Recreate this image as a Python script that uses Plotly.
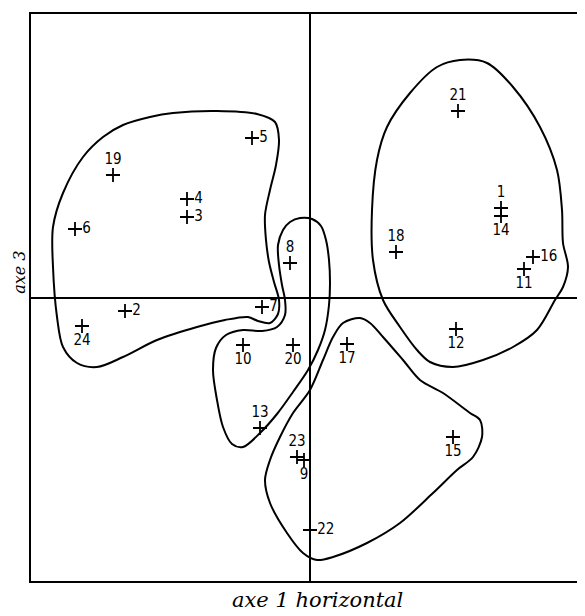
import plotly.graph_objects as go

# individus sur le plan (axe 1, axe 3)
labels = ["21", "1", "14", "18", "16", "11", "12", "5", "19", "4", "3", "6",
          "8", "7", "2", "24", "10", "20", "17", "13", "23", "9", "15", "22"]
axe1 = [1.48, 1.91, 1.91, 0.86, 2.23, 2.14, 1.46, -0.58, -1.97, -1.23, -1.23, -2.35,
        -0.20, -0.48, -1.85, -2.28, -0.67, -0.17, 0.37, -0.50, -0.13, -0.06, 1.43, 0.00]
axe3 = [1.87, 0.90, 0.82, 0.46, 0.41, 0.29, -0.31, 1.60, 1.23, 0.99, 0.81, 0.69,
        0.35, -0.09, -0.13, -0.28, -0.47, -0.47, -0.46, -1.30, -1.59, -1.62, -1.39, -2.32]
label_pos = ["top center", "top center", "bottom center", "top center", "middle right",
             "bottom center", "bottom center", "middle right", "top center", "middle right",
             "middle right", "middle right", "top center", "middle right", "middle right",
             "bottom center", "bottom center", "bottom center", "bottom center", "top center",
             "top center", "bottom center", "bottom center", "middle right"]

# contours des groupes (tracés à la main)
groupe_a_x = [-2.07, -1.87, -1.60, -1.37, -0.93, -0.53, -0.35, -0.31, -0.34, -0.40, -0.45,
              -0.44, -0.41, -0.36, -0.31, -0.32, -0.40, -0.52, -0.62, -0.85, -1.13, -1.53,
              -1.87, -2.13, -2.33, -2.47, -2.53, -2.57, -2.57, -2.47, -2.27]
groupe_a_y = [1.61, 1.73, 1.81, 1.85, 1.87, 1.84, 1.76, 1.58, 1.33, 1.08, 0.83,
              0.58, 0.36, 0.16, -0.02, -0.16, -0.25, -0.23, -0.19, -0.22, -0.29, -0.42,
              -0.59, -0.69, -0.65, -0.49, -0.19, 0.31, 0.71, 1.05, 1.41]

groupe_b_x = [-0.10, 0.02, 0.11, 0.16, 0.19, 0.20, 0.19, 0.15, 0.08, -0.02, -0.17, -0.33,
              -0.50, -0.67, -0.78, -0.87, -0.93, -0.97, -0.94, -0.84, -0.67, -0.48, -0.33,
              -0.25, -0.25, -0.28, -0.31, -0.32, -0.27, -0.20]
groupe_b_y = [0.80, 0.79, 0.72, 0.58, 0.38, 0.15, -0.07, -0.32, -0.52, -0.72, -0.94, -1.16,
              -1.35, -1.49, -1.46, -1.29, -1.02, -0.72, -0.50, -0.37, -0.32, -0.33, -0.29,
              -0.17, -0.02, 0.13, 0.33, 0.53, 0.68, 0.76]

groupe_c_x = [0.50, 0.33, 0.23, 0.13, 0.00, -0.17, -0.30, -0.40, -0.45, -0.40, -0.23, -0.07,
              0.07, 0.23, 0.57, 0.90, 1.23, 1.47, 1.63, 1.72, 1.70, 1.60, 1.33, 1.10, 0.93,
              0.73, 0.60]
groupe_c_y = [-0.20, -0.25, -0.39, -0.62, -0.92, -1.15, -1.39, -1.62, -1.82, -2.05, -2.35,
              -2.55, -2.62, -2.59, -2.45, -2.25, -1.95, -1.72, -1.59, -1.39, -1.22, -1.15,
              -0.95, -0.82, -0.62, -0.39, -0.25]

groupe_d_x = [1.50, 1.77, 2.03, 2.30, 2.47, 2.52, 2.53, 2.58, 2.53, 2.45, 2.27, 2.03, 1.73,
              1.43, 1.20, 1.07, 0.90, 0.73, 0.63, 0.62, 0.67, 0.77, 1.00, 1.27]
groupe_d_y = [2.38, 2.35, 2.11, 1.71, 1.28, 0.88, 0.55, 0.31, 0.11, -0.02, -0.32, -0.49,
              -0.62, -0.69, -0.64, -0.52, -0.29, -0.02, 0.38, 0.88, 1.38, 1.71, 2.05, 2.31]

groupes = [(groupe_a_x, groupe_a_y), (groupe_b_x, groupe_b_y),
           (groupe_c_x, groupe_c_y), (groupe_d_x, groupe_d_y)]

fig = go.Figure()

for gx, gy in groupes:
    fig.add_trace(go.Scatter(
        x=gx + gx[:1], y=gy + gy[:1], mode="lines",
        line=dict(color="black", width=2, shape="spline", smoothing=0.9),
        hoverinfo="skip", showlegend=False))

fig.add_trace(go.Scatter(
    x=axe1, y=axe3, mode="markers+text", text=labels, textposition=label_pos,
    marker=dict(symbol="cross-thin", size=10, line=dict(color="black", width=1.8)),
    textfont=dict(family="Liberation Sans Narrow, DejaVu Sans Condensed, sans-serif",
                  size=15, color="black"),
    showlegend=False))

fig.update_xaxes(range=[-2.79, 2.83], showgrid=False, showticklabels=False, ticks="",
                 zeroline=True, zerolinecolor="black", zerolinewidth=2,
                 showline=True, linecolor="black", linewidth=2, mirror=True)
fig.update_yaxes(range=[-2.83, 2.84], showgrid=False, showticklabels=False, ticks="",
                 zeroline=True, zerolinecolor="black", zerolinewidth=2,
                 showline=True, linecolor="black", linewidth=2, mirror=False)

fig.add_annotation(text="axe 1 horizontal", xref="paper", yref="paper",
                   x=0.51, y=-0.034, yanchor="middle", showarrow=False,
                   font=dict(family="DejaVu Serif, serif", size=21, color="black",
                             style="italic"))
fig.add_annotation(text="axe 3", xref="paper", yref="paper", textangle=-90,
                   x=-0.02, y=0.545, xanchor="center", showarrow=False,
                   font=dict(family="DejaVu Serif, serif", size=16, color="black",
                             style="italic"))

fig.update_layout(width=585, height=616, autosize=False,
                  margin=dict(l=23, r=0, t=6, b=43),
                  paper_bgcolor="white", plot_bgcolor="white")

fig.write_html("out.html")
